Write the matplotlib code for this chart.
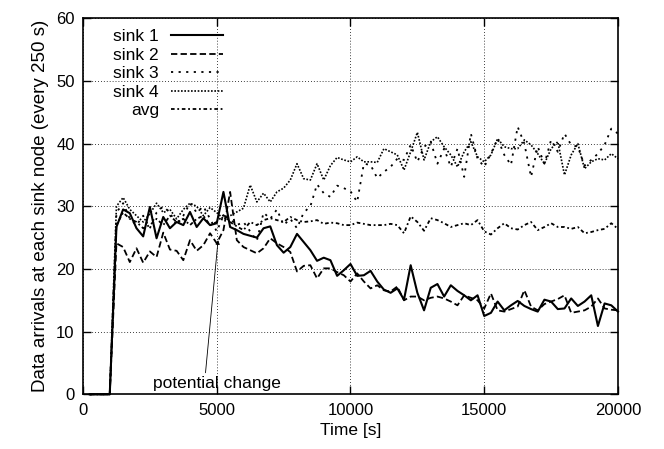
import matplotlib
matplotlib.use('Agg')
import matplotlib.pyplot as plt
import numpy as np

plt.rcParams['font.family'] = ['Liberation Sans', 'DejaVu Sans']

# one sample every 250 s
time_s = np.arange(250, 20001, 250)

sink1 = [0, 0, 0, 0, 26.7, 29.5, 28.9, 26.5, 25.2, 29.9,
         24.9, 28.3, 26.5, 27.5, 27.0, 29.1, 26.7, 28.1, 27.0, 27.3,
         32.3, 26.7, 26.2, 25.6, 25.3, 25.0, 26.5, 26.8, 23.8, 22.6,
         23.5, 25.6, 24.3, 23.0, 21.3, 21.8, 21.4, 18.9, 19.8, 20.8,
         18.9, 19.0, 19.7, 18.0, 16.7, 16.2, 16.9, 15.1, 20.6, 16.2,
         13.4, 17.0, 17.6, 15.6, 17.4, 16.5, 15.8, 15.0, 15.8, 12.5,
         13.0, 14.8, 13.4, 14.2, 14.9, 14.1, 13.6, 13.2, 15.1, 14.8,
         13.6, 13.7, 15.3, 14.1, 14.8, 15.8, 10.9, 14.5, 14.2, 13.2]

sink2 = [0, 0, 0, 0, 24.1, 23.5, 21.1, 23.3, 21.0, 22.8,
         21.9, 25.8, 23.1, 22.9, 21.4, 24.6, 22.9, 23.8, 25.7, 24.1,
         26.2, 32.3, 24.6, 23.5, 23.0, 22.5, 23.3, 24.9, 24.1, 23.5,
         22.7, 19.6, 20.5, 20.6, 18.5, 20.1, 20.1, 19.5, 19.0, 18.0,
         19.3, 18.0, 16.9, 17.4, 16.6, 16.4, 17.2, 15.0, 15.6, 15.6,
         15.0, 15.4, 15.6, 15.3, 14.8, 14.2, 15.8, 15.4, 15.0, 13.7,
         16.1, 13.4, 13.2, 13.6, 14.0, 16.6, 14.0, 13.4, 14.4, 14.8,
         15.2, 15.8, 13.0, 13.2, 13.4, 14.0, 15.3, 13.7, 13.5, 13.4]

sink3 = [0, 0, 0, 0, 29.0, 30.5, 28.0, 27.0, 28.5, 26.5,
         29.0, 30.0, 29.0, 27.0, 28.5, 30.5, 29.0, 30.0, 28.0, 26.0,
         28.5, 28.0, 27.0, 27.5, 26.0, 24.5, 29.0, 28.0, 29.5, 27.0,
         28.0, 26.5, 29.0, 30.0, 33.5, 32.1, 31.5, 33.3, 32.9, 32.4,
         30.7, 36.8, 36.6, 34.5, 35.5, 36.3, 37.6, 37.4, 39.8, 37.1,
         39.5, 40.3, 36.8, 39.2, 36.3, 39.2, 34.7, 41.6, 37.6, 36.3,
         38.4, 40.8, 38.2, 36.6, 42.7, 40.0, 34.7, 39.5, 36.8, 40.6,
         38.7, 41.6, 39.8, 39.5, 36.5, 37.4, 38.4, 39.8, 42.4, 41.6]

sink4 = [0, 0, 0, 0, 30.0, 31.4, 29.5, 28.5, 27.5, 28.8,
         30.5, 29.0, 29.5, 28.0, 29.5, 30.5, 30.0, 28.5, 29.8, 29.0,
         28.0, 28.5, 29.1, 29.7, 33.4, 30.7, 32.1, 30.7, 32.3, 32.9,
         34.2, 36.8, 34.4, 34.2, 36.8, 34.2, 36.5, 37.8, 37.4, 37.1,
         37.9, 37.1, 37.1, 37.0, 39.2, 38.7, 38.2, 35.8, 38.7, 41.8,
         37.4, 40.3, 41.1, 39.5, 38.2, 36.3, 38.7, 40.3, 37.9, 37.1,
         38.2, 40.8, 39.5, 39.2, 39.2, 40.6, 39.8, 38.4, 36.8, 39.2,
         40.3, 35.0, 38.2, 40.0, 36.0, 37.1, 37.6, 37.4, 38.4, 37.6]

avg = [0, 0, 0, 0, 27.0, 29.0, 28.0, 27.5, 26.5, 27.0,
       28.0, 27.0, 28.5, 27.5, 28.0, 27.0, 28.0, 28.5, 27.0, 27.5,
       28.6, 27.5, 26.8, 26.2, 27.5, 27.0, 27.8, 28.1, 27.8, 27.5,
       28.3, 27.8, 27.5, 27.6, 27.8, 27.2, 27.4, 27.3, 27.0, 27.0,
       27.4, 27.2, 27.0, 27.0, 27.0, 27.2, 27.0, 25.7, 28.4, 27.5,
       26.1, 28.1, 27.8, 27.3, 26.7, 27.0, 27.3, 27.0, 27.8, 26.0,
       25.5, 26.5, 27.3, 26.5, 26.3, 27.0, 27.5, 26.2, 26.7, 27.3,
       26.7, 26.7, 26.4, 26.7, 25.7, 25.9, 26.2, 26.4, 27.3, 26.4]

series = [('sink 1', sink1), ('sink 2', sink2), ('sink 3', sink3),
          ('sink 4', sink4), ('avg', avg)]
line_styles = ['-', (0, (3.5, 1.8)), (0, (1.2, 3.0)), (0, (1.0, 1.0)),
               (0, (2.0, 1.5, 1.0, 1.5))]
line_widths = [1.5, 1.3, 1.3, 1.2, 1.3]

fig = plt.figure(figsize=(6.64, 4.49), dpi=100)
ax = fig.add_axes([0.125, 0.1218, 0.8057, 0.8374])

for (name, vals), ls, lw in zip(series, line_styles, line_widths):
    ax.plot(time_s, vals, color='black', linestyle=ls, linewidth=lw,
            label=name, zorder=3, clip_on=False)

ax.set_xlim(0, 20000)
ax.set_ylim(0, 60)
ax.set_xticks(np.arange(0, 20001, 5000))
ax.set_yticks(np.arange(0, 61, 10))
ax.grid(True, color='black', linewidth=0.6, linestyle=(0, (1, 2.5)))
ax.set_axisbelow(True)
ax.tick_params(direction='in', length=6, width=1, top=True, right=True,
               pad=6, labelsize=12)
for sp in ax.spines.values():
    sp.set_linewidth(1.2)

ax.set_xlabel('Time [s]', fontsize=12.5, labelpad=4)
ax.set_ylabel('Data arrivals at each sink node (every 250 s)', fontsize=13.5,
              labelpad=5)

ax.annotate('potential change', xy=(5050, 24.6), xytext=(5000, 1.8),
            ha='center', va='center', fontsize=12.5,
            arrowprops=dict(arrowstyle='-|>', lw=0.6, color='black',
                            relpos=(0.41, 1.0), shrinkA=0, shrinkB=0,
                            mutation_scale=6))

leg = ax.legend(loc='upper right', bbox_to_anchor=(0.262, 0.972),
                frameon=False, markerfirst=False, handlelength=3.0,
                handletextpad=0.7, labelspacing=0.2, borderpad=0,
                borderaxespad=0, fontsize=12.5)
for col in leg._legend_handle_box.get_children():
    col.align = 'right'

fig.savefig('out.png', dpi=100)
